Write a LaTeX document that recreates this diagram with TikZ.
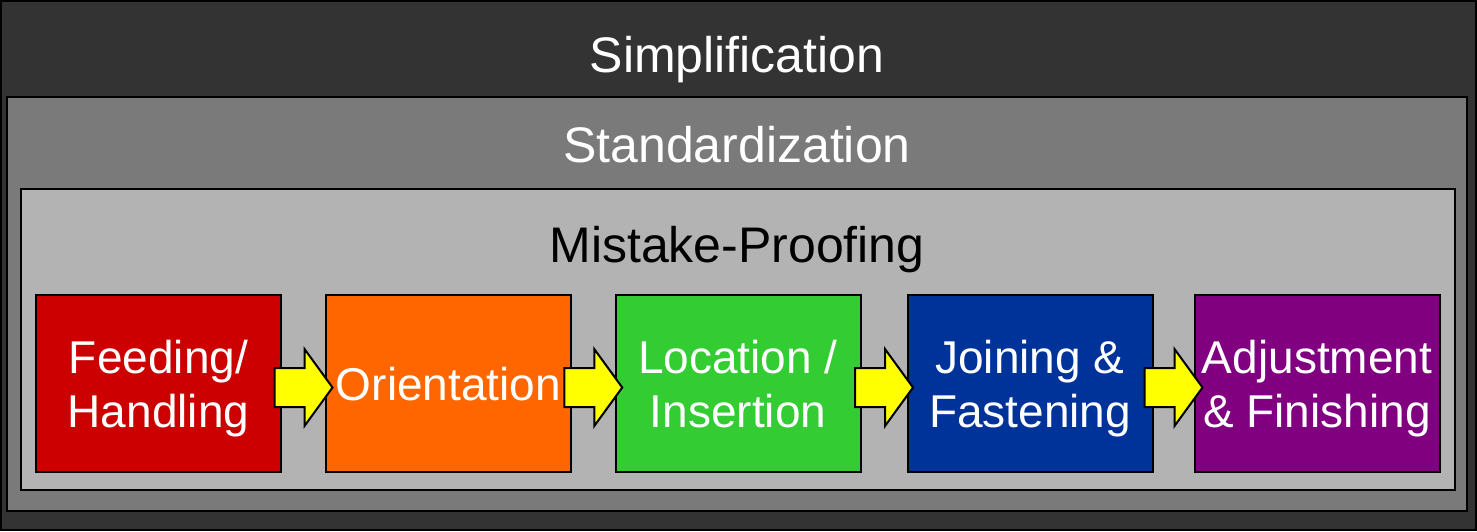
\documentclass[tikz,border=0pt]{standalone}
\usepackage{fontspec}
\setmainfont{Liberation Sans}
\usepackage{tikz}
\usetikzlibrary{calc}
\definecolor{simpgray}{HTML}{333333}
\definecolor{stdgray}{HTML}{7A7A7A}
\definecolor{mpgray}{HTML}{B3B3B3}
\definecolor{feedred}{HTML}{CC0000}
\definecolor{orientorange}{HTML}{FF6600}
\definecolor{locgreen}{HTML}{33CC33}
\definecolor{joinblue}{HTML}{003399}
\definecolor{adjpurple}{HTML}{800080}
\definecolor{arrowyellow}{HTML}{FFFF00}

\begin{document}
\begin{tikzpicture}[x=1pt,y=-1pt,
  frame/.style={
    draw=black,
    line width=2pt
  },
  title/.style={
    anchor=base,
    inner sep=0pt,
    font=\fontsize{50}{60}\selectfont
  },
  stage/.style={
    draw=black,
    line width=2pt,
    text=white,
    align=center,
    inner sep=0pt,
    text depth=0pt,
    minimum width=245pt,
    minimum height=177pt,
    font=\fontsize{46}{54}\selectfont
  },
  blockarrow/.style={
    draw=black,
    fill=arrowyellow,
    line width=2pt
  }
]
 \useasboundingbox (0,0) rectangle (1477,531);
  \draw[frame,fill=simpgray] (1,1) rectangle (1476,530);
  \draw[frame,fill=stdgray] (7,97) rectangle (1467,511);
  \draw[frame,fill=mpgray] (21,189) rectangle (1455,490);
  \node[title,text=white] (simp) at (737,72) {Simplification};
  \node[title,text=white] (std) at (737,162) {Standardization};
  \node[title,text=black] (mp) at (737,262) {Mistake-Proofing};
  \node[stage,fill=feedred] (feed) at (158.5,383.5) {Feeding/\\Handling};
  \node[stage,fill=orientorange] (orient) at (448.5,383.5) {Orientation};
  \node[stage,fill=locgreen] (locate) at (738,383.5) {Location /\\Insertion};
  \node[stage,fill=joinblue] (join) at (1030,383.5) {Joining \&\\Fastening};
  \node[stage,fill=adjpurple] (adjust) at (1317,383.5) {Adjustment\\\& Finishing};
  \foreach \a/\b in {feed/orient,orient/locate,locate/join,join/adjust}
    \draw[blockarrow] ($(\a.east)!0.5!(\b.west)+(-29,-15.5)$) -- ++(30,0) -- ++(0,-19)
      -- ++(28,38.5) -- ++(-28,38.5) -- ++(0,-19) -- ++(-30,0) -- cycle;
\end{tikzpicture}
\end{document}
